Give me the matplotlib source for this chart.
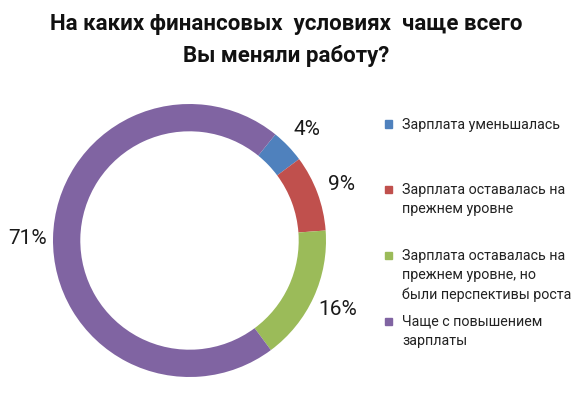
import matplotlib
matplotlib.use('Agg')
import matplotlib.pyplot as plt
from matplotlib.patches import Rectangle

plt.rcParams['font.family'] = ['Roboto', 'DejaVu Sans']

title = 'На каких финансовых  условиях  чаще всего\nВы меняли работу?'
categories = ['Зарплата уменьшалась',
              'Зарплата оставалась на\nпрежнем уровне',
              'Зарплата оставалась на\nпрежнем уровне, но\nбыли перспективы роста',
              'Чаще с повышением\nзарплаты']
shares = [4, 9, 16, 71]
colors = ['#4F81BD', '#C0504D', '#9BBB59', '#8064A2']

W, H = 587, 406
fig = plt.figure(figsize=(W / 100, H / 100), dpi=100)

# donut: centre (189.5, 241.5) px from top, radius 136.5 px
cx, cy, r = 189.5, H - 241.5, 136.5
lim = 1.3
half = r * lim
ax = fig.add_axes([(cx - half) / W, (cy - half) / H, 2 * half / W, 2 * half / H])

wedges, texts, autotexts = ax.pie(
    shares, colors=colors, startangle=51, counterclock=False,
    wedgeprops=dict(width=0.2, edgecolor='none'),
    autopct='%d%%', pctdistance=1.19,
    textprops=dict(fontsize=15, color='#1a1a1a'),
)
for t in autotexts:
    t.set_clip_on(False)
ax.set_xlim(-lim, lim)
ax.set_ylim(-lim, lim)
ax.set_aspect('equal')
ax.axis('off')

fig.text(0.488, 1 - 40 / H, title, ha='center', va='center', fontsize=16,
         fontweight='bold', linespacing=1.55, color='#111111')

# legend, drawn by hand to keep the spacing of the original
legend_y = [125, 190, 256, 322]
for lab, col, y in zip(categories, colors, legend_y):
    fig.patches.append(Rectangle(((388 - 3.5) / W, (H - y - 3.5) / H), 7 / W, 7 / H,
                                 transform=fig.transFigure, color=col))
    fig.text(402 / W, (H - y + 7) / H, lab, ha='left', va='top', fontsize=10.3,
             linespacing=1.48, color='#222222')

fig.savefig('out.png', dpi=100)
